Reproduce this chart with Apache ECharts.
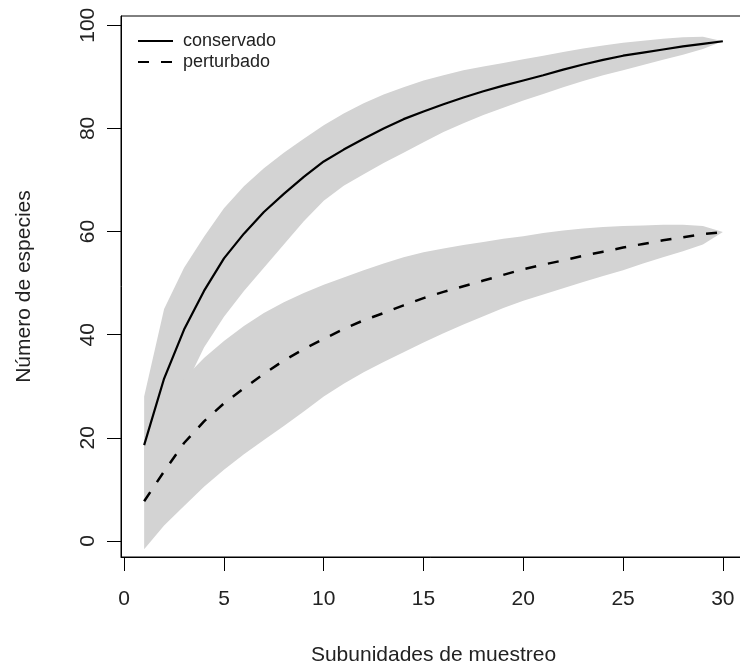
<!DOCTYPE html>
<html><head><meta charset="utf-8">
<script src="https://cdn.jsdelivr.net/npm/echarts@6/dist/echarts.min.js"></script>
<style>html,body{margin:0;padding:0;background:#fff}#c{width:740px;height:669px}</style>
</head><body><div id="c"></div>
<script>
const subunits = [1,2,3,4,5,6,7,8,9,10,11,12,13,14,15,16,17,18,19,20,21,22,23,24,25,26,27,28,29,30];
const consMean  = [18.6,31.5,41,48.5,54.8,59.6,63.8,67.3,70.6,73.6,75.9,78,80,81.8,83.3,84.7,86,87.2,88.3,89.3,90.3,91.4,92.4,93.3,94.1,94.7,95.3,95.9,96.4,96.9];
const consUpper = [28,45,53,59,64.5,68.8,72.3,75.3,78,80.6,82.9,84.9,86.6,88,89.3,90.3,91.3,92,92.7,93.4,94.1,94.8,95.5,96.1,96.6,97,97.4,97.7,97.8,96.9];
const consLower = [9,19,29.5,37.5,43.5,48.5,53,57.5,62,66,68.9,71.1,73.3,75.3,77.3,79.3,81,82.6,84,85.4,86.7,88,89.2,90.3,91.3,92.3,93.3,94.3,95.4,96.9];
const pertMean  = [7.7,13.5,19,23.2,26.7,29.6,32.4,35,37.2,39.2,41.1,42.8,44.2,45.7,47.1,48.3,49.4,50.5,51.6,52.7,53.6,54.4,55.3,56.1,56.9,57.6,58.3,58.9,59.5,59.9];
const pertUpper = [18.5,26,31.5,35.5,38.8,41.7,44.2,46.3,48.1,49.7,51.1,52.5,53.8,55,56,56.7,57.4,58,58.6,59.1,59.7,60.2,60.6,60.9,61.1,61.2,61.3,61.3,61.1,59.9];
const pertLower = [-1.6,3,6.8,10.5,13.8,16.8,19.6,22.3,25.1,28,30.5,32.7,34.7,36.6,38.5,40.3,42,43.6,45.2,46.6,47.8,49,50.2,51.4,52.5,53.8,55,56.2,57.5,59.9];
const xTicks = [0,5,10,15,20,25,30];
const yTicks = [0,20,40,60,80,100];

const FONT = '"Liberation Sans", Arial, Helvetica, sans-serif';
const BAND = '#d3d3d3';
const pairs = arr => subunits.map((x, i) => [x, arr[i]]);

function band(name, lower, upper) {
  const rows = subunits.map((x, i) => [x, lower[i], upper[i]]);
  return {
    type: 'custom', name, data: rows, silent: true, z: 1, clip: true,
    encode: { x: 0, y: [1, 2] },
    renderItem(params, api) {
      if (params.dataIndex !== 0) return null;
      const pts = [];
      for (let i = 0; i < rows.length; i++) pts.push(api.coord([rows[i][0], rows[i][2]]));
      for (let i = rows.length - 1; i >= 0; i--) pts.push(api.coord([rows[i][0], rows[i][1]]));
      return { type: 'polygon', shape: { points: pts }, style: { fill: BAND } };
    }
  };
}

const chart = echarts.init(document.getElementById('c'), null, { renderer: 'canvas' });
chart.setOption({
  animation: false,
  backgroundColor: '#fff',
  grid: { left: 121, top: 16, width: 625, height: 541, show: true, borderColor: '#000', borderWidth: 1,
          containLabel: false, outerBoundsMode: 'none' },
  legend: {
    data: ['conservado', 'perturbado'], orient: 'vertical', left: 132, top: 27,
    itemWidth: 35, itemHeight: 14, itemGap: 3, selectedMode: false,
    itemStyle: { opacity: 0 },
    textStyle: { fontSize: 18, fontFamily: FONT, color: '#222', padding: [0, 0, 0, 5] }
  },
  xAxis: {
    type: 'value', min: -0.16, max: 31.16,
    axisLine: { show: true, onZero: false, lineStyle: { color: '#000', width: 1 } },
    axisTick: { show: true, length: 14, customValues: xTicks, lineStyle: { color: '#000' } },
    axisLabel: { customValues: xTicks, margin: 32, fontSize: 21, color: '#222', fontFamily: FONT },
    splitLine: { show: false },
    name: 'Subunidades de muestreo', nameLocation: 'middle', nameGap: 88,
    nameTextStyle: { fontSize: 21, color: '#222', fontFamily: FONT }
  },
  yAxis: {
    type: 'value', min: -3.1, max: 101.8,
    axisLine: { show: true, onZero: false, lineStyle: { color: '#000', width: 1 } },
    axisTick: { show: true, length: 14, customValues: yTicks, lineStyle: { color: '#000' } },
    axisLabel: { customValues: yTicks, rotate: 90, margin: 22, fontSize: 21, color: '#222', fontFamily: FONT },
    splitLine: { show: false },
    name: 'Número de especies', nameLocation: 'middle', nameRotate: 90, nameGap: 86,
    nameTextStyle: { fontSize: 21, color: '#222', fontFamily: FONT }
  },
  series: [
    band('cons band', consLower, consUpper),
    band('pert band', pertLower, pertUpper),
    { type: 'line', name: 'conservado', data: pairs(consMean), symbol: 'none', z: 5,
      lineStyle: { color: '#000', width: 2.2 }, itemStyle: { color: '#000' } },
    { type: 'line', name: 'perturbado', data: pairs(pertMean), symbol: 'none', z: 5,
      lineStyle: { color: '#000', width: 2.5, type: [11, 12] }, itemStyle: { color: '#000' } }
  ]
});
</script>
</body></html>
